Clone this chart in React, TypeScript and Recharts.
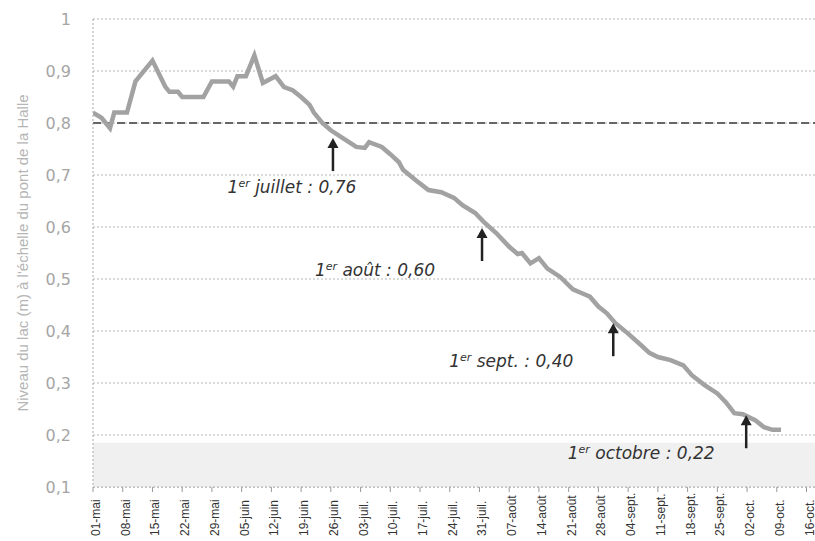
import {
  LineChart,
  Line,
  XAxis,
  YAxis,
  CartesianGrid,
  ReferenceLine,
  ReferenceArea,
  ReferenceDot,
} from 'recharts';

// weekly tick labels, one every 7 days from 1 May
const xLabels = [
  '01-mai', '08-mai', '15-mai', '22-mai', '29-mai', '05-juin', '12-juin', '19-juin',
  '26-juin', '03-juil.', '10-juil.', '17-juil.', '24-juil.', '31-juil.', '07-août',
  '14-août', '21-août', '28-août', '04-sept.', '11-sept.', '18-sept.', '25-sept.',
  '02-oct.', '09-oct.', '16-oct.',
];
const xTicks = xLabels.map((_, i) => i * 7);
const yTicks = [0.1, 0.2, 0.3, 0.4, 0.5, 0.6, 0.7, 0.8, 0.9, 1];

// days since 1 May, lake level (m)
const days = [
  0, 2, 4, 5, 8, 10, 11, 14, 17, 18, 20, 21, 26, 28, 32, 33, 34, 36, 38, 40, 43, 45, 47,
  49, 51, 52, 54, 56, 59, 62, 64, 65, 68, 70, 72, 73, 76, 79, 82, 85, 87, 90, 92, 95,
  98, 100, 101, 103, 105, 107, 110, 113, 115, 117, 119, 121, 123, 126, 129, 131, 133,
  136, 139, 141, 144, 147, 149, 151, 153, 156, 158, 160, 162,
];
const levels = [
  0.82, 0.81, 0.79, 0.82, 0.82, 0.88, 0.89, 0.92, 0.87, 0.86, 0.86, 0.85, 0.85, 0.88,
  0.88, 0.87, 0.89, 0.89, 0.93, 0.877, 0.89, 0.869, 0.863, 0.85, 0.835, 0.82, 0.8,
  0.786, 0.77, 0.754, 0.752, 0.763, 0.754, 0.74, 0.725, 0.71, 0.69, 0.671, 0.667, 0.656,
  0.642, 0.627, 0.61, 0.588, 0.562, 0.548, 0.55, 0.53, 0.54, 0.52, 0.504, 0.48, 0.473,
  0.466, 0.447, 0.434, 0.415, 0.395, 0.373, 0.358, 0.35, 0.344, 0.334, 0.315, 0.296,
  0.28, 0.263, 0.242, 0.24, 0.228, 0.215, 0.21, 0.21,
];

// annotations: arrow tip (day, level) and text
const noteDays = [56.5, 91.6, 122.5, 153.8];
const noteLevels = [0.771, 0.598, 0.415, 0.238];
const noteTexts = ['juillet : 0,76', 'août : 0,60', 'sept. : 0,40', 'octobre : 0,22'];
const noteOffsets = [
  { dx: -41, dy: 49 },
  { dx: -107, dy: 42 },
  { dx: -102, dy: 38 },
  { dx: -105, dy: 38 },
];

const chartData = days.map((d, i) => ({ day: d, level: levels[i] }));

// labels are bottom-aligned, reading upwards
const XTick = (props: any) => {
  const { x, y, payload } = props;
  const label = xLabels[Math.round(payload.value / 7)] ?? '';
  return (
    <g transform={`translate(${x},${y})`}>
      <text
        transform="rotate(-90)"
        x={-(536 - y)}
        y={0}
        dy={7}
        textAnchor="start"
        fontSize={12}
        fill="#333"
      >
        {label}
      </text>
    </g>
  );
};

const arrowShape = (i: number) => (p: any) => {
  const { cx, cy } = p;
  const off = noteOffsets[i];
  return (
    <g>
      <line x1={cx} y1={cy + 4} x2={cx} y2={cy + 33} stroke="#222" strokeWidth={2.5} />
      <path d={`M${cx},${cy} L${cx - 5.5},${cy + 10} L${cx + 5.5},${cy + 10} Z`} fill="#222" />
      <text
        x={cx + off.dx}
        y={cy + off.dy}
        dy="0.35em"
        textAnchor="middle"
        fontSize={17}
        fontStyle="italic"
        fontFamily="'DejaVu Sans', sans-serif"
        fill="#333"
      >
        1<tspan dy={-6} fontSize={11}>er</tspan>
        <tspan dy={6}> {noteTexts[i]}</tspan>
      </text>
    </g>
  );
};

const YTitle = (p: any) => {
  const vb = p.viewBox || { y: 19, height: 468 };
  const cy = vb.y + vb.height / 2;
  return (
    <text
      x={22}
      y={cy}
      transform={`rotate(-90, 22, ${cy})`}
      textAnchor="middle"
      dominantBaseline="central"
      fontSize={15}
      fill="#b5b5b5"
    >
      Niveau du lac (m) à l'échelle du pont de la Halle
    </text>
  );
};

export default function App() {
  return (
    <div
      style={{
        position: 'absolute',
        left: 0,
        top: 0,
        width: 815,
        height: 541,
        overflow: 'hidden',
        background: '#fff',
        fontFamily: "'Liberation Sans', Arial, sans-serif",
      }}
    >
      <LineChart width={815} height={541} data={chartData} margin={{ top: 19, right: 0, bottom: 0, left: 0 }}>
        <ReferenceArea y1={0.1} y2={0.185} fill="#f0f0f0" fillOpacity={1} stroke="none" />
        <CartesianGrid horizontal vertical={false} stroke="#b5b5b5" strokeDasharray="2 2" />
        <XAxis
          type="number"
          dataKey="day"
          domain={[0, 170]}
          ticks={xTicks}
          interval={0}
          height={54}
          tick={<XTick />}
          tickSize={5}
          tickLine={{ stroke: '#999' }}
          axisLine={{ stroke: '#aaa', strokeDasharray: '2 2' }}
          allowDataOverflow
        />
        <YAxis
          type="number"
          domain={[0.1, 1]}
          ticks={yTicks}
          width={93}
          tickLine={false}
          tickMargin={16}
          tick={{ fontSize: 16, fill: '#a5a5a5', fontFamily: "'DejaVu Sans', sans-serif" }}
          tickFormatter={(v: number) => String(v).replace('.', ',')}
          axisLine={{ stroke: '#aaa', strokeDasharray: '2 2' }}
          label={{ content: YTitle }}
          allowDataOverflow
        />
        <ReferenceLine y={0.8} stroke="#666" strokeWidth={2} strokeDasharray="8 4" />
        <Line
          type="linear"
          dataKey="level"
          stroke="#a2a2a2"
          strokeWidth={4.5}
          dot={false}
          isAnimationActive={false}
        />
        {noteDays.map((d, i) => (
          <ReferenceDot key={i} x={d} y={noteLevels[i]} r={0} shape={arrowShape(i)} />
        ))}
      </LineChart>
    </div>
  );
}
